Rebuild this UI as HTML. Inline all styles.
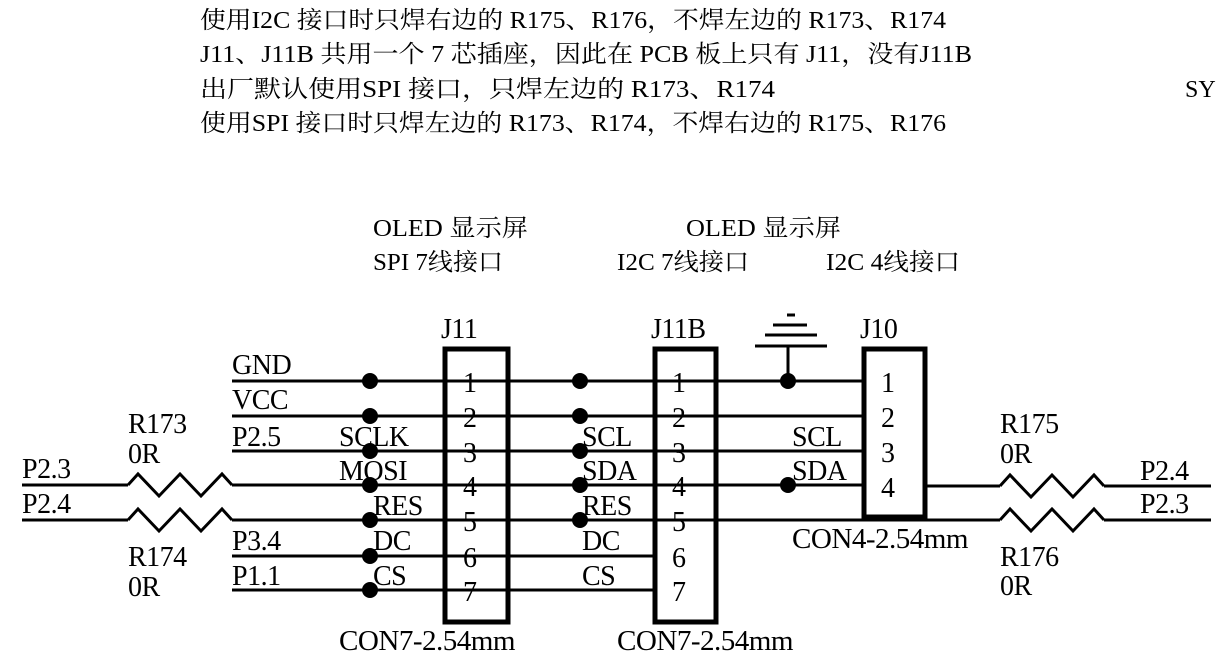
<!DOCTYPE html>
<html><head><meta charset="utf-8"><style>
html,body{margin:0;padding:0;background:#fff;}
svg{display:block;}
text{font-family:"Liberation Serif","Noto Serif CJK SC",serif;fill:#000;}
.l{font-size:28px;letter-spacing:-0.5px;}
.n{font-size:28px;}
.h{font-size:24px;}
</style></head><body>
<svg width="1216" height="661" viewBox="0 0 1216 661" xmlns="http://www.w3.org/2000/svg">
<g class="h">
<text x="200" y="28" textLength="746" lengthAdjust="spacingAndGlyphs">使用I2C 接口时只焊右边的 R175、R176，不焊左边的 R173、R174</text>
<text x="200" y="62" textLength="772" lengthAdjust="spacingAndGlyphs">J11、J11B 共用一个 7 芯插座，因此在 PCB 板上只有 J11，没有J11B</text>
<text x="200" y="97" textLength="575" lengthAdjust="spacingAndGlyphs">出厂默认使用SPI 接口，只焊左边的 R173、R174</text>
<text x="1185" y="97">SY</text>
<text x="200" y="131" textLength="746" lengthAdjust="spacingAndGlyphs">使用SPI 接口时只焊左边的 R173、R174，不焊右边的 R175、R176</text>
<text x="373" y="236" textLength="155" lengthAdjust="spacingAndGlyphs">OLED 显示屏</text>
<text x="373" y="270" textLength="130" lengthAdjust="spacingAndGlyphs">SPI 7线接口</text>
<text x="686" y="236" textLength="155" lengthAdjust="spacingAndGlyphs">OLED 显示屏</text>
<text x="617" y="270" textLength="132" lengthAdjust="spacingAndGlyphs">I2C 7线接口</text>
<text x="826" y="270" textLength="134" lengthAdjust="spacingAndGlyphs">I2C 4线接口</text>
</g>
<g stroke="#000" stroke-width="3" fill="none">
<line x1="232" y1="381" x2="862" y2="381"/>
<line x1="232" y1="416" x2="862" y2="416"/>
<line x1="232" y1="451" x2="862" y2="451"/>
<line x1="22" y1="485" x2="128" y2="485"/>
<polyline points="128,485 138,474 159,496 180,474 201,496 222,474 232,485"/>
<line x1="232" y1="485" x2="862" y2="485"/>
<line x1="22" y1="520" x2="128" y2="520"/>
<polyline points="128,520 138,509 159,531 180,509 201,531 222,509 232,520"/>
<line x1="232" y1="520" x2="1000" y2="520"/>
<line x1="232" y1="556" x2="653" y2="556"/>
<line x1="232" y1="590" x2="653" y2="590"/>
<line x1="927" y1="486" x2="1000" y2="486"/>
<polyline points="1000,486 1010,475 1031,497 1052,475 1073,497 1094,475 1104,486"/>
<line x1="1104" y1="486" x2="1211" y2="486"/>
<polyline points="1000,520 1010,509 1031,531 1052,509 1073,531 1094,509 1104,520"/>
<line x1="1104" y1="520" x2="1211" y2="520"/>
<line x1="788" y1="346" x2="788" y2="381"/>
<line x1="755" y1="346" x2="827" y2="346"/>
<line x1="765" y1="335" x2="817" y2="335"/>
<line x1="773" y1="325" x2="807" y2="325"/>
<line x1="787" y1="315" x2="795" y2="315"/>
</g>
<g stroke="#000" stroke-width="5" fill="#fff">
<rect x="445" y="349" width="63" height="273"/>
<rect x="655" y="349" width="61" height="273"/>
<rect x="864" y="349" width="61" height="168"/>
</g>
<g stroke="#000" stroke-width="3">
<line x1="445" y1="381" x2="508" y2="381"/><line x1="445" y1="416" x2="508" y2="416"/>
<line x1="445" y1="451" x2="508" y2="451"/><line x1="445" y1="485" x2="508" y2="485"/>
<line x1="445" y1="520" x2="508" y2="520"/><line x1="445" y1="556" x2="508" y2="556"/>
<line x1="445" y1="590" x2="508" y2="590"/>
<line x1="655" y1="381" x2="716" y2="381"/><line x1="655" y1="416" x2="716" y2="416"/>
<line x1="655" y1="451" x2="716" y2="451"/><line x1="655" y1="485" x2="716" y2="485"/>
<line x1="655" y1="520" x2="716" y2="520"/>
</g>
<g fill="#000">
<circle cx="370" cy="381" r="8"/><circle cx="370" cy="416" r="8"/><circle cx="370" cy="451" r="8"/>
<circle cx="370" cy="485" r="8"/><circle cx="370" cy="520" r="8"/><circle cx="370" cy="556" r="8"/>
<circle cx="370" cy="590" r="8"/>
<circle cx="580" cy="381" r="8"/><circle cx="580" cy="416" r="8"/><circle cx="580" cy="451" r="8"/>
<circle cx="580" cy="485" r="8"/><circle cx="580" cy="520" r="8"/>
<circle cx="788" cy="381" r="8"/><circle cx="788" cy="485" r="8"/>
</g>
<g class="l">
<text x="232" y="374">GND</text><text x="232" y="409">VCC</text><text x="232" y="446">P2.5</text>
<text x="232" y="550">P3.4</text><text x="232" y="585">P1.1</text>
<text x="339" y="446">SCLK</text><text x="339" y="480">MOSI</text><text x="373" y="515">RES</text>
<text x="373" y="550">DC</text><text x="373" y="585">CS</text>
<text x="128" y="433">R173</text><text x="128" y="463">0R</text>
<text x="22" y="478">P2.3</text><text x="22" y="513">P2.4</text>
<text x="128" y="566">R174</text><text x="128" y="596">0R</text>
<text x="339" y="650" textLength="176" lengthAdjust="spacingAndGlyphs">CON7-2.54mm</text>
<text x="441" y="338">J11</text><text x="651" y="338">J11B</text><text x="860" y="338">J10</text>
<text x="582" y="446">SCL</text><text x="582" y="480">SDA</text><text x="582" y="515">RES</text>
<text x="582" y="550">DC</text><text x="582" y="585">CS</text>
<text x="617" y="650" textLength="176" lengthAdjust="spacingAndGlyphs">CON7-2.54mm</text>
<text x="792" y="446">SCL</text><text x="792" y="480">SDA</text>
<text x="792" y="548" textLength="176" lengthAdjust="spacingAndGlyphs">CON4-2.54mm</text>
<text x="1000" y="433">R175</text><text x="1000" y="463">0R</text>
<text x="1140" y="480">P2.4</text><text x="1140" y="513">P2.3</text>
<text x="1000" y="566">R176</text><text x="1000" y="595">0R</text>
</g>
<g class="n" text-anchor="middle">
<text x="470" y="392">1</text><text x="470" y="427">2</text><text x="470" y="462">3</text><text x="470" y="496">4</text>
<text x="470" y="531">5</text><text x="470" y="567">6</text><text x="470" y="601">7</text>
<text x="679" y="392">1</text><text x="679" y="427">2</text><text x="679" y="462">3</text><text x="679" y="496">4</text>
<text x="679" y="531">5</text><text x="679" y="567">6</text><text x="679" y="601">7</text>
<text x="888" y="392">1</text><text x="888" y="427">2</text><text x="888" y="462">3</text><text x="888" y="497">4</text>
</g>
</svg>
</body></html>
